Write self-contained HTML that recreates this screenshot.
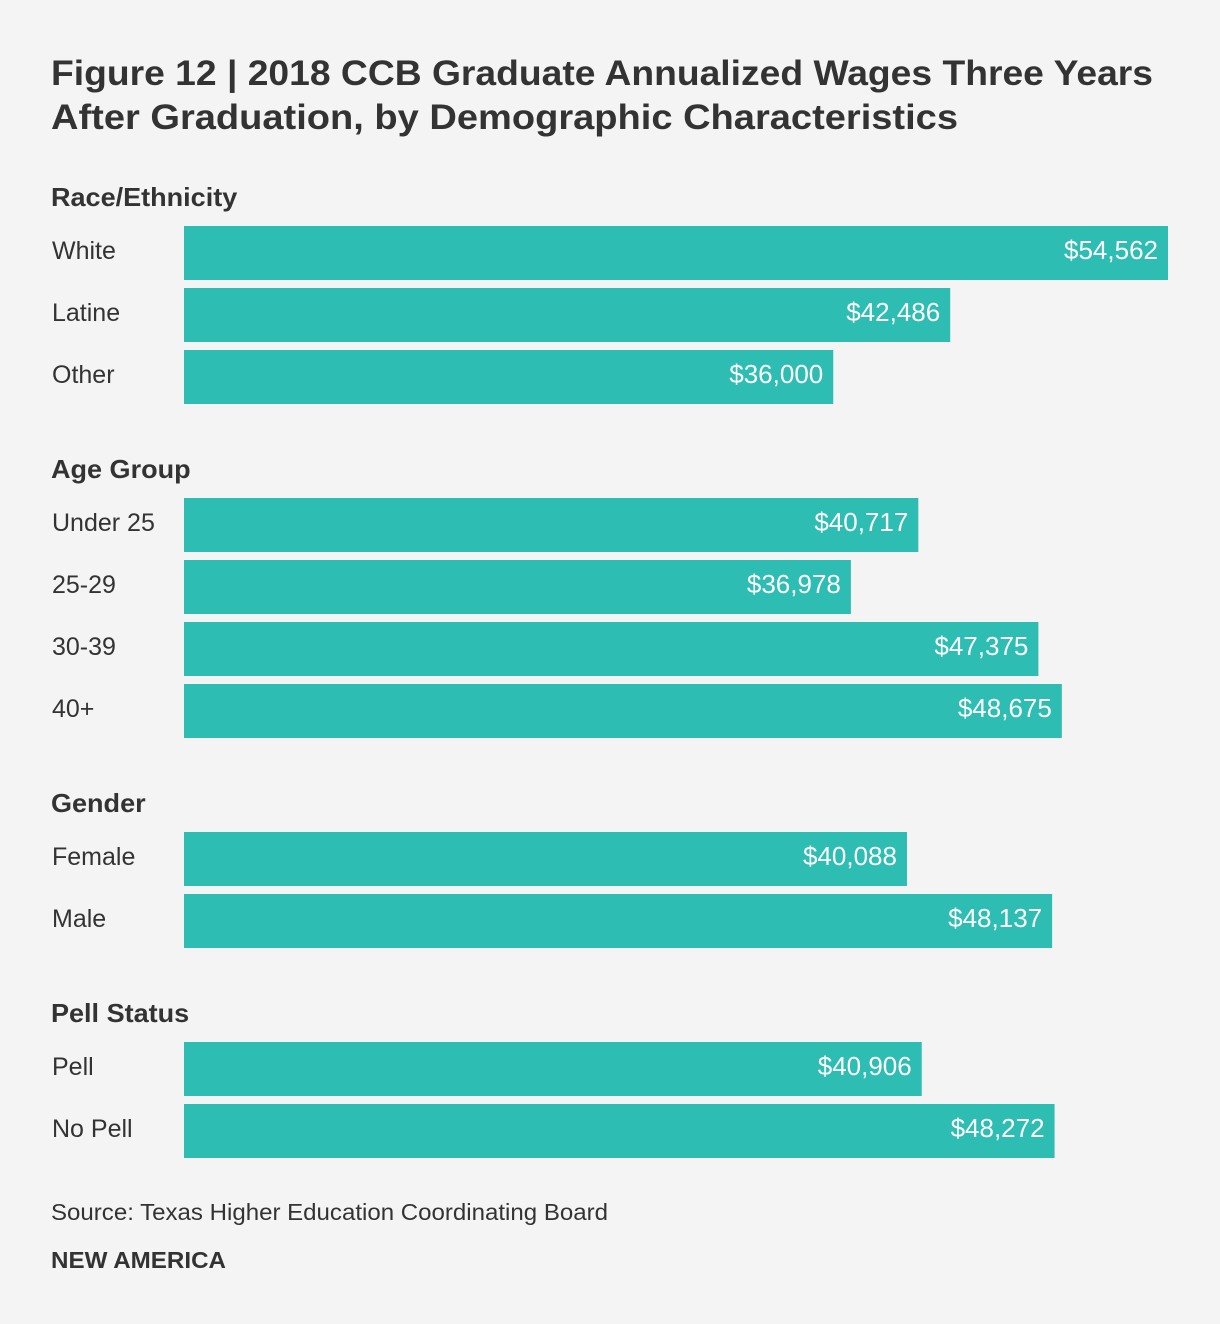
<!DOCTYPE html>
<html><head><meta charset="utf-8"><style>
html,body{margin:0;padding:0;background:#f4f4f4;}
svg{display:block;font-family:"Liberation Sans",sans-serif;}
</style></head><body>
<svg id="chart" width="1220" height="1324" viewBox="0 0 1220 1324">
<rect width="1220" height="1324" fill="#f4f4f4"/>
<text x="51" y="85" font-size="35" font-weight="bold" fill="#333" textLength="1102" lengthAdjust="spacingAndGlyphs">Figure 12 | 2018 CCB Graduate Annualized Wages Three Years</text>
<text x="51" y="129" font-size="35" font-weight="bold" fill="#333" textLength="907" lengthAdjust="spacingAndGlyphs">After Graduation, by Demographic Characteristics</text>
<g id="bars"></g>
<text x="51" y="1220" font-size="23" fill="#333" textLength="557" lengthAdjust="spacingAndGlyphs">Source: Texas Higher Education Coordinating Board</text>
<text x="51" y="1268" font-size="23" font-weight="bold" fill="#333" textLength="175" lengthAdjust="spacingAndGlyphs">NEW AMERICA</text>
</svg>
<script>
const groups = ["Race/Ethnicity","Age Group","Gender","Pell Status"];
const groupY = [197,469,803,1013];
const categories = [["White","Latine","Other"],["Under 25","25-29","30-39","40+"],["Female","Male"],["Pell","No Pell"]];
const values = [[54562,42486,36000],[40717,36978,47375,48675],[40088,48137],[40906,48272]];
const x0 = 184, maxV = 54562, maxW = 984;
function xs(v){ return v / maxV * maxW; }
const ns = "http://www.w3.org/2000/svg";
const g = document.getElementById('bars');
function mk(tag, attrs, txt){
  const e = document.createElementNS(ns, tag);
  for (const k in attrs) e.setAttribute(k, attrs[k]);
  if (txt !== undefined) e.textContent = txt;
  g.appendChild(e);
  return e;
}
groups.forEach((name, gi) => {
  const h = mk('text', {x:51, y:groupY[gi]+9, 'font-size':26, 'font-weight':'bold', fill:'#333'}, name);
  
  
  h.style.transform = 'scaleX(1.04)';
  h.style.transformOrigin = '51px 0';
  h.style.transformBox = 'view-box';
  categories[gi].forEach((c, i) => {
    const top = groupY[gi] + 29 + i*62;
    const v = values[gi][i];
    const w = xs(v);
    const r = mk('rect', {x:x0, y:top, width:w, height:54, fill:'#2ebdb3'});
    
    
    const l = mk('text', {x:52, y:top+33, 'font-size':25, fill:'#333'}, c);
    
    
    const t = mk('text', {x:x0+w-10, y:top+33, 'font-size':26, fill:'#fff', 'text-anchor':'end'}, '$' + v.toLocaleString('en-US'));
    
    
  });
});
</script>
</body></html>
